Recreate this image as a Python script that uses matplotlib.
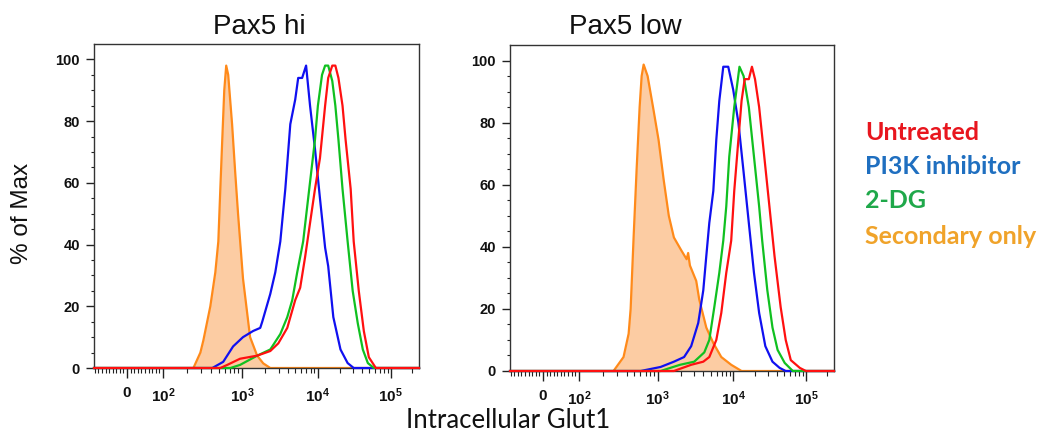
import numpy as np
import matplotlib
matplotlib.use("Agg")
import matplotlib.pyplot as plt
from matplotlib.ticker import FixedLocator, FixedFormatter

plt.rcParams["font.family"] = ["Liberation Sans", "DejaVu Sans"]
plt.rcParams["mathtext.fontset"] = "custom"
plt.rcParams["mathtext.rm"] = "Liberation Sans"
plt.rcParams["mathtext.bf"] = "Liberation Sans:bold"

# ---- histogram data: fluorescence intensity vs. % of max ----
# Pax5 hi
hi_secondary_x = [240, 294, 321, 393, 455, 497, 527, 558, 592, 627, 665, 746, 815, 890, 1031, 1274, 1574, 1890, 2335]
hi_secondary_y = [0, 5, 9, 20, 31, 41, 58, 74, 90, 98, 95, 79, 64, 50, 29, 10, 4, 1.5, 0]
hi_pi3k_x = [417, 574, 769, 1031, 1396, 1726, 1833, 2335, 2716, 3162, 3681, 4285, 4980, 5455, 6155,
             6950, 7850, 9140, 10660, 12510, 13770, 16150, 20210, 25290, 30620]
hi_pi3k_y = [0, 2, 7, 10, 12, 13, 15, 24, 31, 41, 58, 79, 87, 94, 94,
             98, 85, 71, 55, 39, 33, 16.5, 6, 1.6, 0]
hi_2dg_x = [710, 944, 1574, 2335, 3162, 3908, 4547, 5292, 6350, 7166, 8090, 9140, 10000, 11370,
            12510, 13770, 15640, 17210, 18950, 21540, 25290, 29650, 34810, 40840, 47940, 58070]
hi_2dg_y = [0, 1, 4, 6, 11, 16.5, 22, 31, 41, 52, 63, 74, 85, 95,
            98, 98, 93, 85, 74, 58, 41, 25, 14.5, 6, 1.6, 0]
hi_untreated_x = [527, 646, 944, 1574, 2335, 2979, 3908, 4980, 5795, 6745, 7850, 9140, 10660, 12510,
                  13770, 15640, 17210, 18950, 21540, 23710, 27830, 30620, 35940, 42170, 49460, 61890]
hi_untreated_y = [0, 1, 3, 4, 5.5, 8, 13, 22, 26, 36, 47, 58, 68, 85,
                  94, 98, 98, 94, 85, 74, 58, 41, 25, 12, 3.5, 0]

# Pax5 low
low_secondary_x = [273, 366, 425, 451, 492, 538, 588, 624, 662, 745, 889, 1031, 1202, 1402, 1634,
                   2026, 2400, 2512, 2650, 3212, 3522, 4365, 5412, 6918, 9400, 12970]
low_secondary_y = [0, 4.5, 12, 20, 43, 65, 85, 95, 98.7, 95, 84, 74.5, 61.6, 50, 43,
                   39, 36, 38, 34, 29, 23, 14, 9, 4.5, 2, 0]
low_pi3k_x = [606, 1096, 1634, 2222, 2754, 3415, 3981, 4365, 4786, 5412, 5934, 6506, 7356, 8577,
              10000, 11750, 13830, 16270, 19130, 22500, 27350, 34290, 43040, 52270]
low_pi3k_y = [0, 1.3, 3, 4.5, 8, 15.5, 26, 37, 47.7, 58, 74.5, 87, 98, 98,
              90.6, 80, 64, 47.7, 31.6, 18.7, 8, 3, 1, 0]
low_2dg_x = [1096, 1965, 3020, 4105, 4786, 5581, 6506, 7356, 8067, 8845, 10330, 12150, 13830,
             16270, 19130, 22500, 24770, 29130, 34290, 40330, 50600, 65600]
low_2dg_y = [0, 2, 3, 6, 10, 20.6, 31.6, 42, 53, 69, 85, 98, 95,
             85, 69, 53, 42, 26, 14, 6.8, 2.6, 0]
low_untreated_x = [1634, 2754, 3981, 4786, 5934, 6918, 8067, 9400, 10330, 11750, 12970, 14290,
                   16270, 17940, 19760, 22500, 26470, 31120, 36590, 44460, 52270, 61480, 82170, 100000]
low_untreated_y = [0, 2, 3, 4.5, 10, 18.7, 31.6, 42, 58, 74.5, 87, 94,
                   94, 98, 94, 85, 69, 53, 37, 20.6, 10, 3.5, 1, 0]

panel_titles = ["Pax5 hi", "Pax5 low"]
legend_labels = ["Untreated", "PI3K inhibitor", "2-DG", "Secondary only"]
x_major_ticks = [0, 1e2, 1e3, 1e4, 1e5]
x_major_labels = ["0", r"$\mathbf{10^{2}}$", r"$\mathbf{10^{3}}$", r"$\mathbf{10^{4}}$", r"$\mathbf{10^{5}}$"]

C_RED, C_BLUE, C_GREEN, C_ORANGE = "#ff1010", "#1010f0", "#10c020", "#ff8a1a"
C_FILL = "#fccca3"
LEGEND_COLORS = ["#e8161e", "#1f6fc0", "#1fa84a", "#f0a32a"]


# biexponential-like display: linear below 10^2, slightly compressed log above
def _fwd(x):
    x = np.asarray(x, dtype=float)
    u = np.log10(np.maximum(x, 100.0)) - 2.0
    return np.where(x < 100, 0.36 * x, 36.0 + 80.5 * u - 1.5 * u ** 2)


def _inv(p):
    p = np.asarray(p, dtype=float)
    disc = np.maximum(80.5 ** 2 - 6.0 * (p - 36.0), 0.0)
    u = (80.5 - np.sqrt(disc)) / 3.0
    return np.where(p < 36, p / 0.36, 10.0 ** (2.0 + u))


XMIN, XMAX = -92, 250000

fig = plt.figure(figsize=(10.44, 4.34), dpi=100)
W, H = 1044, 434
ax_hi = fig.add_axes([94 / W, 1 - 368 / H, 325 / W, 324 / H])
ax_low = fig.add_axes([510 / W, 1 - 371 / H, 324 / W, 326 / H])

panels = [
    (ax_hi, hi_secondary_x, hi_secondary_y, hi_pi3k_x, hi_pi3k_y, hi_2dg_x, hi_2dg_y,
     hi_untreated_x, hi_untreated_y, 0.508, 1.031),
    (ax_low, low_secondary_x, low_secondary_y, low_pi3k_x, low_pi3k_y, low_2dg_x, low_2dg_y,
     low_untreated_x, low_untreated_y, 0.355, 1.034),
]


def full_range(x, y):
    # histograms run along the baseline over the whole axis
    return np.r_[XMIN, x, XMAX], np.r_[0, y, 0]


minor_x = ([-v for v in range(10, 100, 10)] + list(range(10, 100, 10)) +
           [m * d for d in (100, 1000, 10000) for m in range(2, 10)] + [200000])

for i, (ax, sx, sy, px_, py_, gx, gy, ux, uy, tx, ty) in enumerate(panels):
    ax.set_xscale("function", functions=(_fwd, _inv))
    ax.set_xlim(XMIN, XMAX)
    ax.set_ylim(0, 105)

    xs, ys = full_range(sx, sy)
    ax.fill_between(xs, ys, 0, color=C_FILL, lw=0, zorder=1)
    ax.plot(xs, ys, color=C_ORANGE, lw=1.6, zorder=2)
    for (x, y, c, z) in ((px_, py_, C_BLUE, 3), (gx, gy, C_GREEN, 4), (ux, uy, C_RED, 5)):
        xx, yy = full_range(x, y)
        ax.plot(xx, yy, color=c, lw=1.6, zorder=z, clip_on=False)

    ax.xaxis.set_major_locator(FixedLocator(x_major_ticks))
    ax.xaxis.set_major_formatter(FixedFormatter(x_major_labels))
    ax.xaxis.set_minor_locator(FixedLocator(minor_x))
    ax.yaxis.set_major_locator(FixedLocator([0, 20, 40, 60, 80, 100]))
    ax.yaxis.set_minor_locator(FixedLocator([v for v in range(0, 105, 5) if v % 20]))

    ax.tick_params(axis="x", which="major", direction="out", length=7, width=1.0,
                   color="#222222", pad=6, labelsize=11)
    ax.tick_params(axis="x", which="minor", direction="out", length=3.5, width=0.8, color="#222222")
    ax.tick_params(axis="y", which="major", direction="out", length=6, width=1.0,
                   color="#222222", pad=4, labelsize=10.5)
    ax.tick_params(axis="y", which="minor", direction="out", length=2.5, width=0.8, color="#222222")
    for lab in ax.get_yticklabels() + ax.get_xticklabels():
        lab.set_fontweight("bold")
        lab.set_color("#111111")

    for s in ax.spines.values():
        s.set_color("#333333")
        s.set_linewidth(1.0)

    ax.text(tx, ty, panel_titles[i], transform=ax.transAxes, ha="center", va="baseline",
            fontsize=20, color="#111111")

fig.text(22 / W, 1 - 213 / H, "% of Max", rotation=90, ha="center", va="center",
         fontsize=17.5, color="#111111")
fig.text(508 / W, 1 - 421 / H, "Intracellular Glut1", ha="center", va="center",
         fontsize=18.5, family=["Lato", "DejaVu Sans"], color="#111111")

legend_y = [132, 166, 201, 236]
for lab, col, yy in zip(legend_labels, LEGEND_COLORS, legend_y):
    fig.text(865 / W, 1 - yy / H, lab, ha="left", va="center", fontsize=18,
             fontweight="bold", family=["Lato", "DejaVu Sans"], color=col)

fig.savefig("out.png", dpi=100)
